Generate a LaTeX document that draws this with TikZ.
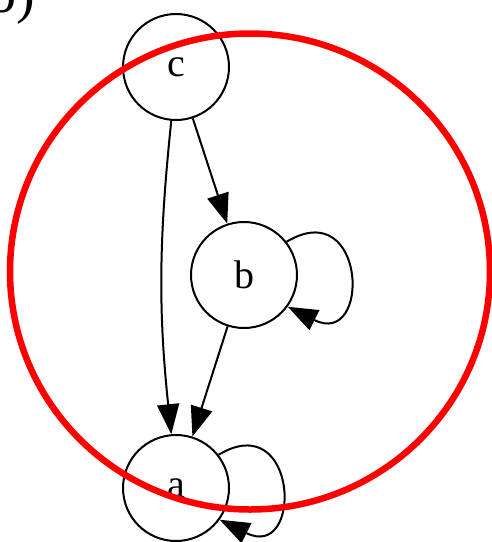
\documentclass[tikz,border=0pt]{standalone}
\usepackage{fontspec}
\setmainfont{Liberation Serif}
\usetikzlibrary{arrows.meta}
\tikzset{
  >={Triangle[length=30pt,width=22pt]},
  % graf
  gn/.style={circle,draw=black,fill=white,line width=2pt,inner sep=0pt,
             minimum size=106pt,font=\fontsize{40}{48}\selectfont},
  ge/.style={->,draw=black,line width=2pt},
  ring/.style={draw=red,line width=6.5pt},
  tag/.style={font=\fontsize{56}{64}\selectfont,inner sep=0pt},
}
\begin{document}
\begin{tikzpicture}[x=1pt,y=-1pt]
\useasboundingbox (0,0) rectangle (492,542);
  \node[tag,anchor=base east] (lbl) at (35,12) {b)};
  \node[gn] (c) at (176,67) {c};
  \node[gn] (b) at (244,275) {b};
  \node[gn] (a) at (176,488) {a};
  \draw[ge] (c) -- (b);
  \draw[ge] (c.-95) to[bend right=6] (a.95);
  \draw[ge] (b) -- (a);
  \draw[ge] (b.38) .. controls +(80,-48) and +(84,42) .. (b.-36);
  \draw[ge] (a.38) .. controls +(80,-48) and +(84,42) .. (a.-36);
  % markering
  \draw[ring] (250,271.5) ellipse [x radius=240,y radius=238];
\end{tikzpicture}
\end{document}
